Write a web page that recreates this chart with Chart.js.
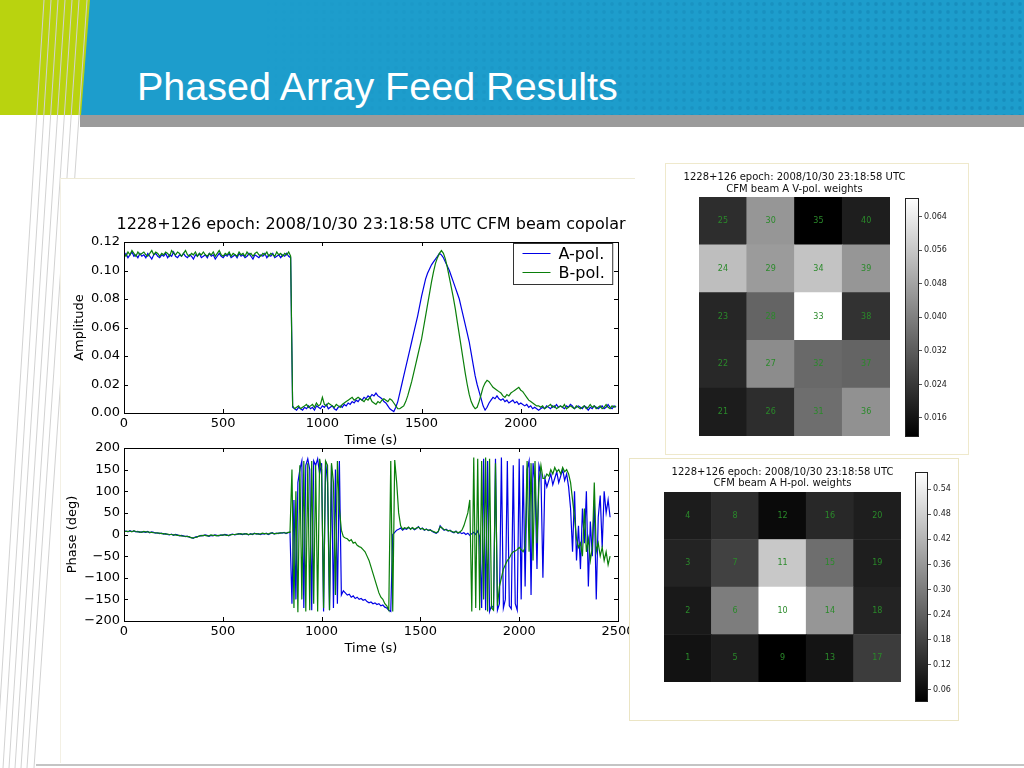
<!DOCTYPE html>
<html lang="en">
<head>
<meta charset="UTF-8">
<title>Phased Array Feed Results</title>
<script src="https://cdn.jsdelivr.net/npm/chart.js@4"></script>
<style>
  html, body { margin: 0; padding: 0; }
  body { width: 1024px; height: 768px; position: relative; overflow: hidden; background: #fff; }
  .abs { position: absolute; }
  #deco { left: 0; top: 0; z-index: 0; }
  #slideTitle { left: 137px; top: 66px; z-index: 3; color: #fff; font: 39.5px/40px 'Liberation Sans', Arial, sans-serif; white-space: nowrap; }
  .panel { background: #fff; box-sizing: border-box; }
  #leftPanel { left: 60px; top: 178px; width: 575px; height: 585px; border-top: 1px solid #eeead6; border-left: 1px solid #f3f0e4; z-index: 1; }
  #vPanel { left: 665px; top: 163px; width: 304px; height: 292px; border: 1px solid #efe9cc; z-index: 4; }
  #hPanel { left: 629px; top: 458px; width: 330px; height: 263px; border: 1px solid #ebe5c4; z-index: 4; }
  canvas { position: absolute; }
  #ampChart, #phaseChart { z-index: 2; }
  #vMap, #vBar, #hMap, #hBar { z-index: 5; }
</style>
</head>
<body>
<svg id="deco" class="abs" width="1024" height="768">
  <defs>
    <pattern id="dots" width="8" height="8" patternUnits="userSpaceOnUse">
      <circle cx="4" cy="4" r="1.9" fill="#0b6f9f"/>
    </pattern>
    <linearGradient id="fade" x1="0" x2="1" y1="0" y2="0">
      <stop offset="0.25" stop-color="#fff" stop-opacity="0"/>
      <stop offset="0.85" stop-color="#fff" stop-opacity="1"/>
    </linearGradient>
    <mask id="fadeMask"><rect x="0" y="0" width="1024" height="115" fill="url(#fade)"/></mask>
  </defs>
  <rect x="0" y="0" width="1024" height="115" fill="#1d9dcc"/>
  <rect x="0" y="0" width="1024" height="115" fill="url(#dots)" mask="url(#fadeMask)" opacity="0.3"/>
  <rect x="80" y="115" width="944" height="12" fill="#9b9b9b"/>
  <polygon points="0,0 90,0 81,115 0,115" fill="#b9d30f"/>
  <g stroke="#d2d2d2" stroke-width="1">
    <line x1="44" y1="0" x2="-4" y2="768"/>
    <line x1="51" y1="0" x2="3" y2="768"/>
    <line x1="58" y1="0" x2="9" y2="768"/>
    <line x1="65" y1="0" x2="15" y2="768"/>
    <line x1="72" y1="0" x2="21" y2="768"/>
    <line x1="79" y1="0" x2="27" y2="768"/>
    <line x1="87" y1="0" x2="34" y2="768"/>
  </g>
  <rect x="36" y="764" width="988" height="2" fill="#c4c4c4"/>
</svg>
<div id="slideTitle" class="abs">Phased Array Feed Results</div>

<div id="leftPanel" class="abs panel"></div>
<div id="vPanel" class="abs panel"></div>
<div id="hPanel" class="abs panel"></div>

<canvas id="ampChart" width="662" height="255" style="left:40px; top:200px;"></canvas>
<canvas id="phaseChart" width="662" height="231" style="left:40px; top:430px;"></canvas>
<canvas id="vMap" width="251" height="272" style="left:669px; top:165px;"></canvas>
<canvas id="vBar" width="60" height="255" style="left:900px; top:190px;"></canvas>
<canvas id="hMap" width="297" height="223" style="left:634px; top:460px;"></canvas>
<canvas id="hBar" width="48" height="245" style="left:910px; top:465px;"></canvas>

<script>
// time series are sampled every 10 s starting at 0 s
const sampleStep = 10;

// amplitude, A-pol. (blue), 0..2480 s
const ampApol = [
  0.110,0.112,0.109,0.111,0.113,0.110,0.111,0.109,0.112,0.110,
  0.111,0.109,0.112,0.110,0.108,0.111,0.112,0.110,0.109,0.111,
  0.110,0.112,0.109,0.111,0.110,0.113,0.110,0.109,0.111,0.110,
  0.112,0.110,0.109,0.111,0.110,0.108,0.111,0.110,0.112,0.109,
  0.110,0.111,0.109,0.112,0.110,0.111,0.108,0.110,0.112,0.110,
  0.109,0.111,0.110,0.112,0.109,0.110,0.111,0.109,0.112,0.110,
  0.111,0.109,0.110,0.112,0.110,0.108,0.111,0.110,0.109,0.111,
  0.110,0.112,0.109,0.111,0.110,0.112,0.109,0.110,0.111,0.109,
  0.111,0.110,0.112,0.110,0.109,0.004,0.003,0.002,0.004,0.003,
  0.002,0.004,0.003,0.005,0.003,0.004,0.002,0.005,0.004,0.003,
  0.005,0.004,0.006,0.003,0.004,0.005,0.003,0.002,0.004,0.005,
  0.004,0.006,0.005,0.007,0.006,0.008,0.007,0.009,0.008,0.010,
  0.009,0.011,0.010,0.012,0.011,0.013,0.012,0.014,0.012,0.011,
  0.010,0.008,0.007,0.005,0.003,0.002,0.001,0.004,0.008,0.014,
  0.020,0.026,0.032,0.038,0.044,0.050,0.056,0.062,0.068,0.075,
  0.082,0.088,0.094,0.098,0.101,0.104,0.106,0.108,0.110,0.112,
  0.111,0.109,0.106,0.103,0.100,0.096,0.092,0.088,0.084,0.080,
  0.074,0.068,0.062,0.056,0.050,0.042,0.034,0.026,0.020,0.015,
  0.010,0.005,0.002,0.004,0.007,0.009,0.011,0.010,0.012,0.010,
  0.009,0.010,0.008,0.009,0.007,0.008,0.009,0.007,0.008,0.006,
  0.007,0.006,0.005,0.006,0.004,0.005,0.003,0.004,0.003,0.002,
  0.003,0.004,0.003,0.005,0.004,0.003,0.005,0.004,0.006,0.004,
  0.005,0.004,0.003,0.005,0.004,0.006,0.005,0.003,0.004,0.005,
  0.004,0.003,0.005,0.004,0.002,0.004,0.003,0.005,0.004,0.003,
  0.004,0.005,0.003,0.004,0.006,0.004,0.003,0.005,0.004
];

// amplitude, B-pol. (green), 0..2480 s
const ampBpol = [
  0.112,0.110,0.113,0.111,0.114,0.112,0.110,0.113,0.111,0.112,
  0.113,0.111,0.110,0.112,0.114,0.111,0.113,0.112,0.110,0.112,
  0.111,0.113,0.112,0.110,0.114,0.112,0.111,0.113,0.112,0.110,
  0.112,0.114,0.111,0.110,0.112,0.111,0.113,0.110,0.112,0.111,
  0.113,0.111,0.110,0.112,0.111,0.113,0.110,0.112,0.114,0.111,
  0.110,0.112,0.111,0.113,0.110,0.112,0.111,0.110,0.113,0.111,
  0.112,0.110,0.113,0.111,0.112,0.110,0.112,0.113,0.111,0.110,
  0.112,0.111,0.113,0.110,0.112,0.111,0.110,0.113,0.111,0.112,
  0.110,0.112,0.111,0.113,0.110,0.005,0.003,0.004,0.005,0.003,
  0.004,0.005,0.006,0.004,0.005,0.006,0.004,0.007,0.005,0.006,
  0.011,0.006,0.005,0.007,0.006,0.005,0.004,0.006,0.005,0.004,
  0.006,0.007,0.008,0.009,0.010,0.011,0.009,0.010,0.011,0.010,
  0.009,0.008,0.010,0.009,0.011,0.008,0.007,0.006,0.008,0.007,
  0.009,0.010,0.009,0.008,0.010,0.009,0.007,0.005,0.003,0.003,
  0.004,0.005,0.008,0.012,0.017,0.022,0.028,0.034,0.040,0.046,
  0.052,0.060,0.068,0.076,0.084,0.092,0.099,0.105,0.109,0.112,
  0.114,0.112,0.108,0.102,0.095,0.088,0.081,0.073,0.064,0.055,
  0.046,0.037,0.028,0.020,0.013,0.008,0.005,0.003,0.004,0.008,
  0.013,0.018,0.021,0.023,0.022,0.020,0.018,0.017,0.016,0.015,
  0.014,0.012,0.011,0.013,0.012,0.014,0.015,0.016,0.017,0.018,
  0.016,0.015,0.013,0.011,0.009,0.008,0.007,0.006,0.005,0.005,
  0.004,0.005,0.003,0.004,0.005,0.006,0.004,0.005,0.003,0.004,
  0.005,0.004,0.006,0.003,0.004,0.005,0.004,0.003,0.005,0.004,
  0.003,0.004,0.005,0.003,0.004,0.006,0.004,0.005,0.003,0.004,
  0.005,0.003,0.004,0.006,0.004,0.003,0.005,0.004,0.005
];

// phase in degrees, A-pol. (blue), 0..2460 s
const phaseApol = [
  7,8,6,9,7,8,6,7,5,6,
  6,5,7,4,6,5,3,4,2,3,
  1,2,0,-1,1,-2,0,-1,-3,-2,
  -3,-5,-4,-6,-7,-9,-6,-5,-4,-2,
  -3,-1,-2,-4,-2,-3,-1,-2,-3,-1,
  -2,0,-1,-3,0,1,-1,0,2,1,
  0,2,1,-1,2,0,3,1,2,0,
  2,1,3,0,2,4,1,3,2,4,
  3,5,2,4,6,-160,80,-150,120,150,
  170,-170,160,175,150,-175,170,160,175,140,
  165,-178,170,120,-175,160,-170,150,-160,170,
  -140,-130,-135,-140,-138,-145,-142,-148,-145,-150,
  -148,-152,-150,-155,-158,-156,-160,-158,-162,-160,
  -165,-163,-168,-170,-175,-178,0,5,10,12,
  15,10,14,12,16,13,15,11,14,18,
  12,15,10,13,9,11,7,5,3,6,
  20,14,10,12,8,10,6,4,8,3,
  5,2,4,0,3,-2,2,5,0,8,
  -5,-170,175,-175,170,-178,-165,-170,175,-175,
  -160,178,-170,-150,170,-165,-172,160,-160,-175,
  175,-150,160,-120,150,170,-140,165,120,-80,
  160,140,-100,130,110,125,140,115,130,145,
  120,135,150,125,140,110,60,-40,100,-60,
  20,-80,60,-20,100,-120,30,-50,80,-150,
  40,90,-30,100,50,80,40
];

// phase in degrees, B-pol. (green), 0..2460 s
const phaseBpol = [
  8,7,7,8,6,9,7,6,6,5,
  7,6,6,5,5,4,4,3,3,2,
  2,1,1,0,0,-1,-1,-2,-2,-3,
  -4,-4,-5,-5,-8,-8,-7,-6,-3,-3,
  -2,-2,-3,-3,-1,-2,-2,-3,-2,-2,
  -1,-1,-2,-2,-1,0,0,1,1,2,
  1,1,2,0,1,1,2,2,1,1,
  3,2,2,1,3,3,2,2,3,3,
  4,4,3,5,5,150,-170,100,-180,160,
  -150,170,-178,165,-175,170,-160,160,-178,175,
  150,-170,170,160,-175,165,120,-140,170,60,
  10,-5,-8,-10,-15,-12,-20,-18,-25,-28,
  -30,-35,-40,-50,-60,-75,-90,-105,-120,-135,
  -145,-150,-160,-165,-175,170,-178,172,120,50,
  20,12,16,14,17,12,16,12,15,17,
  13,14,11,12,10,10,8,6,4,7,
  18,15,11,11,9,9,7,5,7,4,
  6,10,20,35,50,80,-178,178,-170,175,
  -175,170,-150,178,-178,175,-170,-175,165,-165,
  -120,-100,-80,-70,-60,-55,-45,-40,-38,-35,
  -30,-35,-40,-30,170,-40,165,-60,170,-20,
  120,160,130,130,140,135,150,140,155,145,
  150,140,155,145,150,140,120,80,40,-10,
  -30,-20,-50,60,-40,-10,-60,-30,120,-40,
  -20,-50,-30,-60,-40,-70,-50
];

const ampTicksX = [0, 500, 1000, 1500, 2000];
const ampTicksY = [0, 0.02, 0.04, 0.06, 0.08, 0.10, 0.12];
const phaseTicksX = [0, 500, 1000, 1500, 2000, 2500];
const phaseTicksY = [-200, -150, -100, -50, 0, 50, 100, 150, 200];

// beam weights per array element (V-pol: elements 21..40, H-pol: elements 1..20)
const vpolWeights = [
  0.0179, 0.0206, 0.0202, 0.0540, 0.0217,
  0.0217, 0.0429, 0.0340, 0.0462, 0.0451,
  0.0362, 0.0351, 0.0685, 0.0551, 0.0117,
  0.0440, 0.0340, 0.0228, 0.0451, 0.0184
];
const hpolWeights = [
  0.072, 0.087, 0.109, 0.094,
  0.098, 0.302, 0.173, 0.130,
  0.0335, 0.581, 0.463, 0.055,
  0.076, 0.356, 0.270, 0.119,
  0.162, 0.109, 0.098, 0.098
];
const vpolBarTicks = [0.016, 0.024, 0.032, 0.040, 0.048, 0.056, 0.064];
const hpolBarTicks = [0.06, 0.12, 0.18, 0.24, 0.30, 0.36, 0.42, 0.48, 0.54];

const heatTitle = '1228+126 epoch: 2008/10/30 23:18:58 UTC';

Chart.defaults.font.family = "'DejaVu Sans', sans-serif";
Chart.defaults.color = '#111';

const toPoints = vals => vals.map((v, i) => ({x: i * sampleStep, y: v}));
const minus = v => (v < 0 ? '\u2212' + Math.abs(v) : String(v));

// black box round the plot, with matplotlib-style inward ticks
const mplFrame = {
  id: 'mplFrame',
  afterDraw(chart, args, opts) {
    const {ctx, chartArea: a, scales} = chart;
    ctx.save();
    ctx.strokeStyle = opts.color || '#000';
    ctx.lineWidth = 1;
    if (opts.ticks) {
      ctx.beginPath();
      scales.x.ticks.forEach(t => {
        const px = Math.round(scales.x.getPixelForValue(t.value)) + 0.5;
        ctx.moveTo(px, a.bottom); ctx.lineTo(px, a.bottom - 4);
        ctx.moveTo(px, a.top); ctx.lineTo(px, a.top + 4);
      });
      scales.y.ticks.forEach(t => {
        const py = Math.round(scales.y.getPixelForValue(t.value)) + 0.5;
        ctx.moveTo(a.left, py); ctx.lineTo(a.left + 4, py);
        ctx.moveTo(a.right, py); ctx.lineTo(a.right - 4, py);
      });
      ctx.stroke();
    }
    ctx.strokeRect(Math.round(a.left) + 0.5, Math.round(a.top) + 0.5,
      Math.round(a.right - a.left), Math.round(a.bottom - a.top));
    ctx.restore();
  }
};

// title centred over the plot area (not over the whole canvas)
const plotTitle = {
  id: 'plotTitle',
  afterDraw(chart, args, opts) {
    if (!opts.lines) return;
    const {ctx, chartArea: a} = chart;
    ctx.save();
    ctx.font = `${opts.size}px 'DejaVu Sans'`;
    ctx.fillStyle = opts.color;
    ctx.textAlign = 'center';
    ctx.textBaseline = 'middle';
    opts.lines.forEach((t, i) => ctx.fillText(t, (a.left + a.right) / 2, a.top - opts.offset + i * opts.lineGap));
    ctx.restore();
  }
};

// legend box in the upper right corner of the plot
const boxLegend = {
  id: 'boxLegend',
  afterDraw(chart) {
    const {ctx, chartArea: a} = chart;
    const sets = chart.data.datasets;
    ctx.save();
    ctx.font = "16px 'DejaVu Sans'";
    const textW = Math.max(...sets.map(d => ctx.measureText(d.label).width));
    const w = 9 + 28 + 8 + textW + 8, h = 41;
    const x = Math.round(a.right - 6 - w) + 0.5, y = Math.round(a.top + 1) + 0.5;
    ctx.fillStyle = '#fff';
    ctx.fillRect(x, y, w, h);
    ctx.strokeStyle = '#333';
    ctx.lineWidth = 1;
    ctx.strokeRect(x, y, w, h);
    sets.forEach((d, i) => {
      const cy = y + 10 + i * 19;
      ctx.strokeStyle = d.borderColor;
      ctx.beginPath();
      ctx.moveTo(x + 9, cy); ctx.lineTo(x + 37, cy);
      ctx.stroke();
      ctx.fillStyle = '#000';
      ctx.textBaseline = 'middle';
      ctx.fillText(d.label, x + 45, cy + 1);
    });
    ctx.restore();
  }
};

// element number written in each heat-map cell
const cellLabels = {
  id: 'cellLabels',
  afterDatasetsDraw(chart) {
    const {ctx} = chart;
    ctx.save();
    ctx.font = "8px 'DejaVu Sans'";
    ctx.fillStyle = '#2a8a2a';
    ctx.textAlign = 'center';
    ctx.textBaseline = 'middle';
    chart.data.datasets.forEach((ds, r) => {
      chart.getDatasetMeta(r).data.forEach((bar, c) => {
        ctx.fillText(String(ds.numbers[c]), bar.x, (bar.y + bar.base) / 2);
      });
    });
    ctx.restore();
  }
};

function lineChart(id, series, opt) {
  return new Chart(document.getElementById(id), {
    type: 'line',
    data: {
      datasets: [
        {label: 'A-pol.', data: toPoints(series[0]), borderColor: '#0000e6', order: 1},
        {label: 'B-pol.', data: toPoints(series[1]), borderColor: '#0a7f0a', order: 0}
      ]
    },
    options: {
      responsive: false,
      animation: false,
      events: [],
      layout: {padding: {left: 0, right: 84, top: opt.padTop, bottom: 0}},
      elements: {
        line: {borderWidth: 1.2, tension: 0},
        point: {radius: 0}
      },
      scales: {
        x: {
          type: 'linear', min: 0, max: opt.xMax,
          afterBuildTicks: s => { s.ticks = opt.xTicks.map(v => ({value: v})); },
          afterFit: s => { s.height = opt.xHeight; },
          ticks: {font: {size: 13}, color: '#000', padding: 3, maxRotation: 0, callback: v => String(v)},
          grid: {display: false, drawTicks: false},
          border: {display: false},
          title: {display: true, text: 'Time (s)', color: '#000', font: {size: 13}, padding: {top: 0, bottom: opt.xTitlePad}}
        },
        y: {
          type: 'linear', min: opt.yMin, max: opt.yMax,
          afterBuildTicks: s => { s.ticks = opt.yTicks.map(v => ({value: v})); },
          afterFit: s => { s.width = 84; },
          ticks: {font: {size: 13}, color: '#000', padding: 4, callback: opt.yFormat},
          grid: {display: false, drawTicks: false},
          border: {display: false},
          title: {display: true, text: opt.yTitle, color: '#000', font: {size: 13}, padding: {top: opt.yTitlePad, bottom: 0}}
        }
      },
      plugins: {
        legend: {display: false},
        tooltip: {enabled: false},
        title: {display: false},
        plotTitle: opt.title ? {lines: [opt.title], size: 16, color: '#000', offset: 17.5, lineGap: 0} : {},
        mplFrame: {ticks: true}
      }
    },
    plugins: opt.legend ? [mplFrame, plotTitle, boxLegend] : [mplFrame, plotTitle]
  });
}

lineChart('ampChart', [ampApol, ampBpol], {
  title: '1228+126 epoch: 2008/10/30 23:18:58 UTC CFM beam copolar',
  legend: true, padTop: 42, xMax: 2490, xTicks: ampTicksX, xHeight: 42, xTitlePad: 7,
  yMin: 0, yMax: 0.12, yTicks: ampTicksY, yTitle: 'Amplitude', yTitlePad: 32,
  yFormat: v => v.toFixed(2)
});

lineChart('phaseChart', [phaseApol, phaseBpol], {
  title: null,
  legend: false, padTop: 18, xMax: 2500, xTicks: phaseTicksX, xHeight: 40, xTitlePad: 5,
  yMin: -200, yMax: 200, yTicks: phaseTicksY, yTitle: 'Phase (deg)', yTitlePad: 25,
  yFormat: v => minus(v)
});

// grid of array elements: stacked bars, one dataset per row, cells coloured on a gray scale
function heatMap(id, weights, firstElement, nCols, nRows, titleLine2, pad, lineGap) {
  const lo = Math.min(...weights), hi = Math.max(...weights);
  const gray = v => { const g = Math.round(255 * (v - lo) / (hi - lo)); return `rgb(${g},${g},${g})`; };
  const cols = Array.from({length: nCols}, (_, c) => c);
  const datasets = [];
  for (let r = 0; r < nRows; r++) {
    const idx = cols.map(c => c * nRows + r);
    datasets.push({
      data: cols.map(() => 1),
      backgroundColor: idx.map(i => gray(weights[i])),
      numbers: idx.map(i => firstElement + i),
      borderWidth: 0, barPercentage: 1, categoryPercentage: 1
    });
  }
  return new Chart(document.getElementById(id), {
    type: 'bar',
    data: {labels: cols.map(String), datasets},
    options: {
      responsive: false,
      animation: false,
      events: [],
      layout: {padding: pad},
      scales: {
        x: {stacked: true, display: false},
        y: {stacked: true, display: false, min: 0, max: nRows}
      },
      plugins: {
        legend: {display: false},
        tooltip: {enabled: false},
        plotTitle: {lines: [heatTitle, titleLine2], size: 10, color: '#111', offset: 20, lineGap: lineGap}
      }
    },
    plugins: [cellLabels, plotTitle]
  });
}

// colour bar: one floating bar filled with a black-to-white gradient over the weight range
function colorBar(id, weights, ticks, decimals, barWidth, pad) {
  const lo = Math.min(...weights), hi = Math.max(...weights);
  return new Chart(document.getElementById(id), {
    type: 'bar',
    data: {
      labels: [''],
      datasets: [{
        data: [[lo, hi]],
        backgroundColor: ctx => {
          const {chart} = ctx;
          if (!chart.chartArea) return '#888';
          const y = chart.scales.y;
          const g = chart.ctx.createLinearGradient(0, y.getPixelForValue(lo), 0, y.getPixelForValue(hi));
          g.addColorStop(0, '#000');
          g.addColorStop(1, '#fff');
          return g;
        },
        borderWidth: 0, barPercentage: 1, categoryPercentage: 1
      }]
    },
    options: {
      responsive: false,
      animation: false,
      events: [],
      layout: {padding: pad},
      scales: {
        x: {display: false},
        y: {
          position: 'right', min: lo, max: hi,
          afterBuildTicks: s => { s.ticks = ticks.map(v => ({value: v})); },
          afterFit: s => { s.width = s.chart.width - pad.left - barWidth; },
          ticks: {font: {size: 8}, color: '#222', padding: 2, callback: v => v.toFixed(decimals)},
          grid: {drawOnChartArea: false, drawTicks: true, tickLength: 4, color: '#555'},
          border: {display: false}
        }
      },
      plugins: {
        legend: {display: false},
        tooltip: {enabled: false},
        mplFrame: {ticks: false, color: '#222'}
      }
    },
    plugins: [mplFrame]
  });
}

heatMap('vMap', vpolWeights, 21, 4, 5, 'CFM beam A V-pol. weights', {left: 30, right: 30, top: 32, bottom: 1}, 12);
colorBar('vBar', vpolWeights, vpolBarTicks, 3, 13, {left: 5, right: 0, top: 8, bottom: 9});
heatMap('hMap', hpolWeights, 1, 5, 4, 'CFM beam A H-pol. weights', {left: 30, right: 30, top: 32, bottom: 1}, 11);
colorBar('hBar', hpolWeights, hpolBarTicks, 2, 12, {left: 5, right: 0, top: 7, bottom: 9});
</script>
</body>
</html>
